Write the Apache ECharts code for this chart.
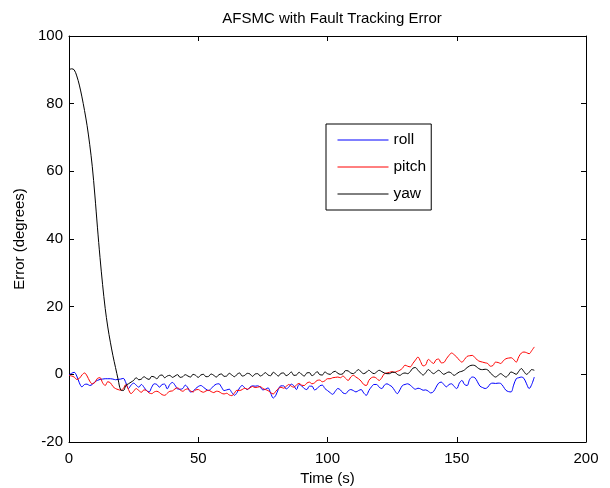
<!DOCTYPE html>
<html>
<head>
<meta charset="utf-8">
<script src="https://cdn.jsdelivr.net/npm/echarts@6/dist/echarts.min.js"></script>
<style>
html,body{margin:0;padding:0;background:#fff;}
#chart{width:610px;height:488px;}
</style>
</head>
<body>
<div id="chart"></div>
<script>
// Sample step of the recorded signals (seconds)
const sampleStep = 1;

// Roll tracking error (degrees), one sample per second, t = 0..180
const rollErr = [
-0.2,0.3,0.6,-0.5,-2.5,-3.7,-3.0,-2.9,-3.3,-3.0,
-2.2,-1.8,-1.5,-1.4,-1.3,-1.3,-1.3,-1.4,-1.6,-1.5,
-1.4,-1.2,-2.5,-4.2,-3.2,-2.6,-3.2,-3.8,-3.0,-3.8,
-4.8,-5.2,-3.8,-2.8,-3.0,-3.8,-3.0,-2.9,-4.3,-3.0,
-2.4,-3.2,-4.3,-4.4,-4.2,-3.2,-4.0,-5.2,-5.0,-4.2,
-3.6,-3.3,-3.8,-4.4,-4.8,-4.2,-3.4,-2.9,-2.8,-3.8,
-4.8,-4.6,-4.4,-5.4,-6.2,-5.4,-4.0,-3.3,-4.0,-4.5,
-3.8,-3.4,-3.5,-3.4,-3.8,-4.6,-4.4,-4.0,-5.5,-7.0,
-6.2,-4.4,-3.4,-3.4,-4.3,-3.8,-2.9,-3.4,-4.5,-3.0,
-3.4,-4.2,-4.5,-3.5,-3.5,-4.6,-4.2,-3.4,-3.2,-4.2,
-4.8,-5.4,-5.9,-5.0,-4.2,-4.6,-5.5,-5.7,-4.9,-4.5,
-4.8,-5.2,-4.8,-4.5,-5.5,-6.2,-4.8,-3.7,-3.0,-3.0,
-3.8,-4.2,-3.2,-2.8,-3.2,-3.7,-4.8,-5.7,-4.6,-3.3,
-3.0,-2.8,-3.2,-3.9,-4.4,-4.1,-4.3,-4.7,-4.6,-5.0,
-5.5,-5.1,-3.8,-2.6,-2.3,-3.0,-3.7,-3.0,-2.8,-3.6,
-4.2,-2.6,-1.8,-3.0,-3.3,-1.5,-0.8,-1.0,-2.2,-3.5,
-3.9,-4.2,-3.8,-2.8,-2.6,-2.7,-2.6,-2.7,-3.6,-4.7,
-5.1,-5.2,-3.2,-1.3,-1.0,-0.8,-1.2,-2.8,-4.2,-3.0,
-0.8
];

// Pitch tracking error (degrees)
const pitchErr = [
-0.3,-0.5,-0.8,-1.5,-1.2,-0.2,0.4,-0.5,-2.0,-2.8,
-2.4,-1.2,-1.0,-2.5,-3.3,-2.2,-2.5,-3.6,-4.2,-4.5,
-4.7,-4.2,-3.0,-4.5,-5.7,-5.0,-4.2,-4.8,-5.3,-4.6,
-4.8,-5.5,-5.7,-5.2,-5.0,-5.4,-6.0,-6.2,-5.6,-5.0,
-4.9,-4.3,-4.0,-4.6,-5.0,-4.5,-4.3,-4.9,-5.2,-4.6,
-4.5,-5.0,-5.3,-4.9,-4.7,-5.1,-5.4,-5.0,-5.1,-5.6,
-5.8,-5.6,-6.1,-6.3,-5.5,-4.7,-4.8,-4.5,-4.1,-4.4,
-4.0,-3.6,-3.9,-3.8,-3.6,-4.2,-4.5,-4.8,-5.4,-5.8,
-5.0,-4.2,-3.8,-4.1,-3.6,-3.0,-3.5,-3.8,-3.1,-2.7,
-3.2,-3.3,-2.6,-2.3,-2.8,-2.5,-1.8,-1.7,-2.2,-1.9,
-1.3,-1.3,-1.0,-0.9,-0.8,-1.0,-0.5,-1.2,-1.8,-0.8,
-0.3,-0.8,-1.3,-2.0,-3.0,-3.3,-1.8,-1.0,-0.8,-1.2,
-1.8,-1.0,0.2,0.4,0.6,0.8,0.6,0.9,1.2,1.8,
2.7,2.4,2.2,3.2,4.2,5.1,3.8,2.5,2.8,4.4,
3.8,3.2,4.3,4.5,3.4,3.5,4.6,5.6,6.3,5.8,
5.1,4.2,3.6,4.4,5.3,5.5,5.6,5.0,4.2,3.8,
3.6,3.4,3.2,2.4,2.6,3.6,3.5,3.2,4.0,4.6,
4.8,4.9,4.4,3.6,5.2,6.3,6.6,6.4,6.1,7.0,
8.1
];

// Yaw tracking error (degrees)
const yawErr = [
90,90.3,90,88.2,85.5,82,78,73.5,68,61.5,
53,43.5,34.5,26.5,19.5,14,9.5,5.5,2,-1.5,
-4.6,-4.8,-3.3,-2.8,-2.3,-1.8,-1.0,-1.6,-1.4,-0.7,
-1.2,-1.5,-0.6,-0.8,-1.3,-0.4,-0.2,-1.0,-0.5,-0.3,
-0.9,-0.5,-0.1,-0.9,-0.7,-0.1,-0.5,-0.8,0.0,-0.3,
-0.9,-0.2,0.0,-0.7,-0.6,0.1,-0.3,-0.8,-0.1,0.1,
-0.6,-0.5,0.3,-0.2,-0.7,0.0,0.4,-0.5,-0.3,0.3,
0.1,-0.6,0.1,0.2,-0.5,-0.1,0.5,-0.2,-0.4,0.6,
0.1,-0.5,0.3,0.4,-0.4,0.0,0.7,-0.3,-0.2,0.6,
0.0,-0.5,0.4,0.5,-0.4,0.1,0.8,-0.1,-0.2,0.7,
0.2,0.0,0.6,0.9,0.3,0.0,0.2,1.1,1.0,0.4,
0.2,0.8,1.4,0.7,0.2,0.6,1.2,0.6,0.2,0.7,
1.2,0.8,0.4,0.2,0.2,0.6,0.6,0.0,-0.3,0.2,
0.4,0.2,0.8,1.8,2.0,1.2,0.4,-0.2,0.5,1.4,
0.8,0.2,0.7,1.2,0.6,0.0,0.4,0.7,0.3,-0.3,
0.2,0.7,0.9,1.3,2.0,2.5,2.7,2.6,2.0,1.5,
1.4,1.5,1.3,0.4,-0.3,-0.8,-0.3,0.2,-0.3,-0.8,
-0.2,0.7,0.4,0.0,0.9,1.7,0.8,0.0,0.6,1.4,
1.2
];

const seriesNames = ['roll', 'pitch', 'yaw'];
const seriesColors = ['#0000ff', '#ff0000', '#000000'];
const xTicks = { min: 0, max: 200, interval: 50 };
const yTicks = { min: -20, max: 100, interval: 20 };

function pairs(arr) { return arr.map((v, i) => [i * sampleStep, v]); }

const font = 'Liberation Sans, Arial, Helvetica, sans-serif';
const fs = 15;
const chart = echarts.init(document.getElementById('chart'), null, { renderer: 'canvas' });

const axisCommon = {
  axisLine: { show: true, onZero: false, lineStyle: { color: '#000', width: 1 } },
  axisTick: { show: true, inside: true, length: 5, lineStyle: { color: '#000', width: 1 } },
  splitLine: { show: false },
  axisLabel: { color: '#000', fontSize: fs, fontFamily: font }
};

chart.setOption({
  animation: false,
  backgroundColor: '#fff',
  title: {
    text: 'AFSMC with Fault Tracking Error',
    left: 327, top: 6, textAlign: 'center',
    textStyle: { fontSize: fs, fontWeight: 'normal', color: '#000', fontFamily: font }
  },
  grid: { left: 69, right: 24, top: 36, bottom: 46, containLabel: false, outerBoundsMode: 'none' },
  legend: {
    data: seriesNames,
    orient: 'vertical',
    left: 326, top: 124,
    padding: [8, 5, 8, 11],
    itemGap: 11,
    itemWidth: 51, itemHeight: 14,
    itemTextGap: 4,
    borderColor: '#000', borderWidth: 1,
    backgroundColor: '#fff',
    itemStyle: { opacity: 0 },
    lineStyle: { width: 1 },
    textStyle: { fontSize: 15.5, color: '#000', fontFamily: font }
  },
  xAxis: [
    Object.assign({}, axisCommon, {
      type: 'value', min: xTicks.min, max: xTicks.max, interval: xTicks.interval,
      position: 'bottom',
      name: 'Time (s)', nameLocation: 'middle', nameGap: 25,
      nameTextStyle: { fontSize: fs, color: '#000', fontFamily: font },
      axisLabel: Object.assign({}, axisCommon.axisLabel, { margin: 9 })
    }),
    Object.assign({}, axisCommon, {
      type: 'value', min: xTicks.min, max: xTicks.max, interval: xTicks.interval,
      position: 'top', axisLabel: { show: false }
    })
  ],
  yAxis: [
    Object.assign({}, axisCommon, {
      type: 'value', min: yTicks.min, max: yTicks.max, interval: yTicks.interval,
      position: 'left',
      name: 'Error (degrees)', nameLocation: 'middle', nameGap: 42, nameRotate: 90,
      nameTextStyle: { fontSize: fs, color: '#000', fontFamily: font },
      axisLabel: Object.assign({}, axisCommon.axisLabel, { margin: 6 })
    }),
    Object.assign({}, axisCommon, {
      type: 'value', min: yTicks.min, max: yTicks.max, interval: yTicks.interval,
      position: 'right', axisLabel: { show: false }
    })
  ],
  series: [rollErr, pitchErr, yawErr].map((arr, k) => ({
    name: seriesNames[k],
    type: 'line',
    xAxisIndex: 0, yAxisIndex: 0,
    data: pairs(arr),
    symbol: 'none',
    smooth: 0.35,
    lineStyle: { color: seriesColors[k], width: 1 },
    itemStyle: { color: seriesColors[k] },
    z: 2 + k
  }))
});
</script>
</body>
</html>
